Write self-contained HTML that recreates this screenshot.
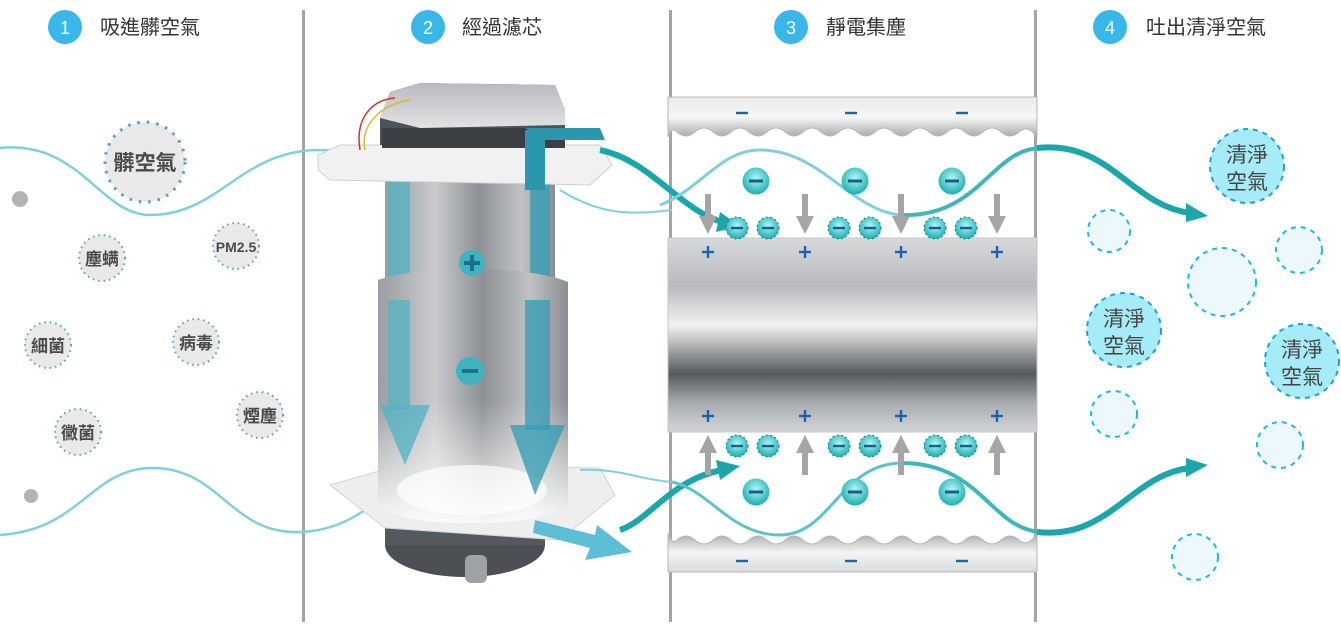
<!DOCTYPE html>
<html><head><meta charset="utf-8"><style>
html,body{margin:0;padding:0;background:#fff}
svg{display:block}
text{font-family:"Liberation Sans","Noto Sans CJK TC",sans-serif}
</style></head><body>
<svg width="1341" height="630" viewBox="0 0 1341 630" xmlns="http://www.w3.org/2000/svg">
<defs>
<linearGradient id="cyl" x1="0" y1="0" x2="0" y2="1">
<stop offset="0" stop-color="#d8d9db"/><stop offset="0.25" stop-color="#b8babd"/><stop offset="0.45" stop-color="#f2f2f2"/><stop offset="0.7" stop-color="#55595c"/><stop offset="0.85" stop-color="#a9acaf"/><stop offset="1" stop-color="#d4d6d8"/>
</linearGradient>
<linearGradient id="plate" x1="0" y1="0" x2="0" y2="1">
<stop offset="0" stop-color="#e9e9ea"/><stop offset="0.5" stop-color="#f7f7f7"/><stop offset="1" stop-color="#a7a8ab"/>
</linearGradient>
<linearGradient id="plate2" x1="0" y1="0" x2="0" y2="1">
<stop offset="0" stop-color="#a7a8ab"/><stop offset="0.5" stop-color="#f5f5f5"/><stop offset="1" stop-color="#d9dadb"/>
</linearGradient>
<linearGradient id="fcyl" x1="0" y1="0" x2="1" y2="0">
<stop offset="0" stop-color="#9a9da1"/><stop offset="0.3" stop-color="#c9cbcd"/><stop offset="0.55" stop-color="#8d9094"/><stop offset="0.8" stop-color="#c0c2c5"/><stop offset="1" stop-color="#8a8d91"/>
</linearGradient>
<linearGradient id="fade" x1="0" y1="0" x2="0" y2="1">
<stop offset="0" stop-color="#fff" stop-opacity="0"/><stop offset="1" stop-color="#fff" stop-opacity="0.95"/>
</linearGradient>
<linearGradient id="box" x1="0" y1="0" x2="0" y2="1">
<stop offset="0" stop-color="#b8babd"/><stop offset="1" stop-color="#e1e2e4"/>
</linearGradient>
<radialGradient id="ion" cx="0.5" cy="0.4" r="0.6">
<stop offset="0" stop-color="#b4f6f6"/><stop offset="1" stop-color="#1aaeb2"/>
</radialGradient>
<g id="bion"><circle r="13.5" fill="url(#ion)"/><rect x="-7" y="-1.5" width="14" height="3" fill="#1b5f88"/></g>
<g id="sion"><circle r="11" fill="url(#ion)" stroke="#0d6e73" stroke-width="1" stroke-dasharray="1.5 3"/><rect x="-6" y="-1.2" width="12" height="2.4" fill="#1b5f88"/></g>
<g id="darr"><rect x="-3" y="0" width="6" height="28" fill="#a5a5a5"/><polygon points="-9,22 9,22 0,40" fill="#a5a5a5"/></g>
<g id="plus"><rect x="-6" y="-1.2" width="12" height="2.4" fill="#1b63b0"/><rect x="-1.2" y="-6" width="2.4" height="12" fill="#1b63b0"/></g>
<g id="minus"><rect x="-6" y="-1.2" width="12" height="2.4" fill="#1b63b0"/></g>
</defs>

<rect x="302" y="10" width="3" height="612" fill="#a4a4a4"/>
<rect x="669" y="10" width="3" height="612" fill="#a4a4a4"/>
<rect x="1034" y="10" width="3" height="612" fill="#a4a4a4"/>

<g font-size="20" fill="#333">
<circle cx="65" cy="27" r="17" fill="#3ab7ea"/><text x="65" y="34" text-anchor="middle" fill="#fff" font-size="18">1</text>
<text x="100" y="34">吸進髒空氣</text>
<circle cx="428" cy="27" r="17" fill="#3ab7ea"/><text x="428" y="34" text-anchor="middle" fill="#fff" font-size="18">2</text>
<text x="462" y="34">經過濾芯</text>
<circle cx="791" cy="27" r="17" fill="#3ab7ea"/><text x="791" y="34" text-anchor="middle" fill="#fff" font-size="18">3</text>
<text x="826" y="34">靜電集塵</text>
<circle cx="1110" cy="27" r="17" fill="#3ab7ea"/><text x="1110" y="34" text-anchor="middle" fill="#fff" font-size="18">4</text>
<text x="1146" y="34">吐出清淨空氣</text>
</g>

<path d="M0,148 C80,140 100,215 150,215 C220,215 240,150 320,150 L380,152" fill="none" stroke="#7fd0dc" stroke-width="2.5"/>
<path d="M0,535 C80,530 90,470 150,468 C220,466 230,535 300,532 C330,531 350,520 365,510" fill="none" stroke="#7fd0dc" stroke-width="2.5"/>
<circle cx="20" cy="199" r="8" fill="#b3b3b3"/>
<circle cx="31" cy="496" r="7" fill="#b3b3b3"/>

<g fill="#e9e9e9" stroke="#5a9fb8" stroke-width="2" stroke-dasharray="1.5 4">
<circle cx="145" cy="162" r="40" stroke-width="3" stroke-dasharray="2.5 7"/>
<circle cx="102" cy="258" r="23"/>
<circle cx="236" cy="246" r="23"/>
<circle cx="48" cy="345" r="23"/>
<circle cx="196" cy="342" r="23"/>
<circle cx="78" cy="432" r="23"/>
<circle cx="260" cy="415" r="23"/>
</g>
<g fill="#4a4a4a" text-anchor="middle" font-weight="bold">
<text x="145" y="170" font-size="21">髒空氣</text>
<text x="102" y="265" font-size="17">塵螨</text>
<text x="236" y="252" font-size="14">PM2.5</text>
<text x="48" y="352" font-size="17">細菌</text>
<text x="196" y="349" font-size="17">病毒</text>
<text x="78" y="439" font-size="17">黴菌</text>
<text x="260" y="422" font-size="17">煙塵</text>
</g>

<path d="M560,190 C600,215 630,215 672,210" fill="none" stroke="#7fd0dc" stroke-width="2"/>
<ellipse cx="465" cy="545" rx="80" ry="32" fill="#4c4f54"/>
<rect x="385" y="515" width="160" height="30" fill="#55585d"/>
<rect x="465" y="555" width="22" height="28" rx="6" fill="#9ea1a5"/>
<polygon points="330,485 400,465 600,468 615,495 560,540 385,528" fill="#eeeeef" stroke="#d2d2d4"/>
<rect x="385" y="170" width="170" height="140" fill="url(#fcyl)"/>
<rect x="388" y="180" width="22" height="140" fill="#56b3c6" opacity="0.75"/>
<rect x="530" y="140" width="20" height="180" fill="#3a9db4" opacity="0.8"/>
<path d="M378,280 C420,265 530,265 568,282 L568,505 C540,530 400,530 378,505 Z" fill="url(#fcyl)"/>
<path d="M378,400 L568,400 L568,505 C540,530 400,530 378,505 Z" fill="url(#fade)"/>
<ellipse cx="472" cy="490" rx="75" ry="25" fill="#fff" opacity="0.7"/>
<rect x="388" y="300" width="22" height="110" fill="#56b3c6" opacity="0.75"/>
<polygon points="380,405 430,405 405,465" fill="#56b3c6" opacity="0.8"/>
<rect x="525" y="300" width="25" height="130" fill="#3a9db4" opacity="0.8"/>
<polygon points="510,425 565,425 535,495" fill="#3a9db4" opacity="0.8"/>
<circle cx="472" cy="263" r="13" fill="#3fb4c1"/><rect x="464" y="261" width="16" height="4" fill="#1d6f8e"/><rect x="470" y="255" width="4" height="16" fill="#1d6f8e"/>
<circle cx="470" cy="371" r="14" fill="#3fb4c1"/><rect x="462" y="369" width="16" height="4" fill="#1d6f8e"/>
<polygon points="535,520 595,535 597,525 632,552 585,560 590,548 533,533" fill="#5cbfd6"/>
<polygon points="318,155 340,145 600,145 612,165 590,185 330,180 318,170" fill="#f1f1f2" stroke="#cfcfd1"/>
<polygon points="380,118 390,92 420,83 555,85 565,110 565,140 380,145" fill="#4e5156"/>
<polygon points="380,118 390,92 420,83 555,85 565,110 565,125 420,128" fill="url(#box)"/>
<rect x="382" y="128" width="183" height="20" fill="#3b3e43"/>
<path d="M360,150 C355,120 370,100 395,98" fill="none" stroke="#c33" stroke-width="1.5"/>
<path d="M365,150 C360,125 380,105 410,100" fill="none" stroke="#d8b93a" stroke-width="1.5"/>
<rect x="525" y="130" width="20" height="60" fill="#2b97ad"/>
<polygon points="525,128 600,128 605,140 545,140" fill="#2b97ad"/>

<path d="M600,150 C650,160 680,210 722,222" fill="none" stroke="#1ba6ab" stroke-width="6"/>
<polygon points="720,212 740,226 716,232" fill="#1ba6ab"/>
<path d="M620,530 C650,520 670,480 722,470" fill="none" stroke="#1ba6ab" stroke-width="6"/>
<polygon points="716,460 740,466 720,480" fill="#1ba6ab"/>
<path d="M580,470 C620,468 640,480 672,482" fill="none" stroke="#7fd0dc" stroke-width="2"/>

<path d="M668,97 L1037,97 L1037,137 Q1028,124 1019,132 Q1010,140 1001,132 Q992,124 983,132 Q974,140 965,132 Q956,124 947,132 Q938,140 929,132 Q920,124 911,132 Q902,140 893,132 Q884,124 875,132 Q866,140 857,132 Q848,124 839,132 Q830,140 821,132 Q812,124 803,132 Q794,140 785,132 Q776,124 767,132 Q758,140 749,132 Q740,124 731,132 Q722,140 713,132 Q704,124 695,132 Q686,140 677,132 Q672,126 668,137 Z" fill="url(#plate)" stroke="#b6b7b9"/>
<rect x="668" y="238" width="369" height="194" fill="url(#cyl)" stroke="#c4c5c7"/>
<path d="M668,533 Q672,545 677,540 Q686,532 695,540 Q704,548 713,540 Q722,532 731,540 Q740,548 749,540 Q758,532 767,540 Q776,548 785,540 Q794,532 803,540 Q812,548 821,540 Q830,532 839,540 Q848,548 857,540 Q866,532 875,540 Q884,548 893,540 Q902,532 911,540 Q920,548 929,540 Q938,532 947,540 Q956,548 965,540 Q974,532 983,540 Q992,548 1001,540 Q1010,532 1019,540 Q1028,548 1037,533 L1037,572 L668,572 Z" fill="url(#plate2)" stroke="#b6b7b9"/>

<path d="M660,205 C700,190 720,150 760,150 C820,150 850,210 900,215" fill="none" stroke="#7fd0dc" stroke-width="3"/>
<path d="M900,215 C980,218 990,150 1040,148" fill="none" stroke="#40b5bb" stroke-width="4"/>
<path d="M672,482 C710,490 730,535 780,535 C830,535 840,465 900,463" fill="none" stroke="#5cc2cc" stroke-width="3"/>
<path d="M900,463 C980,462 990,528 1040,532" fill="none" stroke="#40b5bb" stroke-width="4"/>

<g>
<use href="#minus" x="742" y="113"/><use href="#minus" x="851" y="113"/><use href="#minus" x="962" y="113"/>
<use href="#minus" x="742" y="561"/><use href="#minus" x="851" y="561"/><use href="#minus" x="962" y="561"/>
<use href="#bion" x="756" y="181"/><use href="#bion" x="855" y="181"/><use href="#bion" x="952" y="181"/>
<use href="#bion" x="756" y="492"/><use href="#bion" x="855" y="492"/><use href="#bion" x="952" y="492"/>
<use href="#sion" x="737" y="228"/><use href="#sion" x="768" y="228"/><use href="#sion" x="839" y="228"/><use href="#sion" x="870" y="228"/><use href="#sion" x="935" y="228"/><use href="#sion" x="966" y="228"/>
<use href="#sion" x="737" y="446"/><use href="#sion" x="768" y="446"/><use href="#sion" x="839" y="446"/><use href="#sion" x="870" y="446"/><use href="#sion" x="935" y="446"/><use href="#sion" x="966" y="446"/>
<use href="#darr" x="708" y="194"/><use href="#darr" x="805" y="194"/><use href="#darr" x="901" y="194"/><use href="#darr" x="997" y="194"/>
<use href="#darr" transform="translate(708,475) scale(1,-1)"/><use href="#darr" transform="translate(805,475) scale(1,-1)"/><use href="#darr" transform="translate(901,475) scale(1,-1)"/><use href="#darr" transform="translate(997,475) scale(1,-1)"/>
<use href="#plus" x="708" y="252"/><use href="#plus" x="805" y="252"/><use href="#plus" x="901" y="252"/><use href="#plus" x="997" y="252"/>
<use href="#plus" x="708" y="416"/><use href="#plus" x="805" y="416"/><use href="#plus" x="901" y="416"/><use href="#plus" x="997" y="416"/>
</g>

<path d="M1037,148 C1110,140 1130,205 1190,213" fill="none" stroke="#1ba6ab" stroke-width="6"/>
<polygon points="1186,203 1208,216 1186,222" fill="#1ba6ab"/>
<path d="M1037,532 C1110,540 1130,475 1190,468" fill="none" stroke="#1ba6ab" stroke-width="6"/>
<polygon points="1186,458 1208,465 1186,477" fill="#1ba6ab"/>

<g fill="#edf8fd" stroke="#1fb8e6" stroke-width="2" stroke-dasharray="5 5">
<circle cx="1109" cy="231" r="21"/>
<circle cx="1299" cy="250" r="23"/>
<circle cx="1222" cy="282" r="34"/>
<circle cx="1114" cy="414" r="23"/>
<circle cx="1280" cy="445" r="23"/>
<circle cx="1195" cy="557" r="23"/>
</g>
<g fill="#a5ecf8" stroke="#1fa0d8" stroke-width="2" stroke-dasharray="5 5">
<circle cx="1247" cy="166" r="37"/>
<circle cx="1124" cy="330" r="37"/>
<circle cx="1302" cy="361" r="37"/>
</g>
<g fill="#444" font-size="21" text-anchor="middle">
<text x="1247" y="162">清淨</text><text x="1247" y="189">空氣</text>
<text x="1124" y="326">清淨</text><text x="1124" y="353">空氣</text>
<text x="1302" y="357">清淨</text><text x="1302" y="384">空氣</text>
</g>
</svg>
</body></html>
